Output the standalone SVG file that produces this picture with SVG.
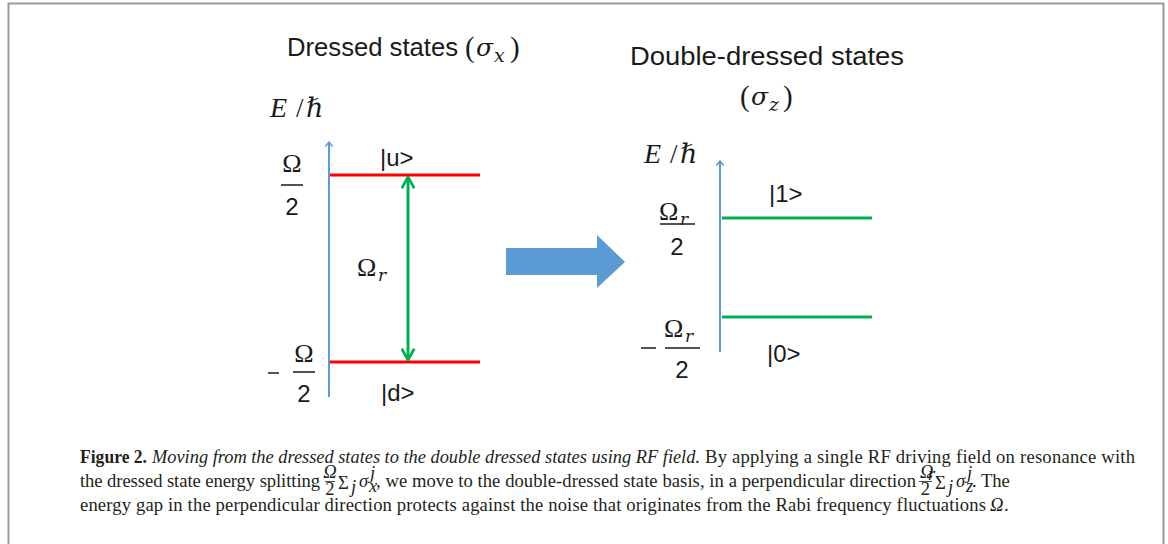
<svg xmlns="http://www.w3.org/2000/svg" width="1168" height="544" viewBox="0 0 1168 544">
<style>
.sans{font-family:"Liberation Sans","Open Sans",sans-serif;fill:#1a1a1a}
.math{font-family:"Liberation Serif","DejaVu Serif",serif;fill:#1a1a1a}
.gk{font-family:"DejaVu Serif","Liberation Serif",serif;font-style:italic;fill:#1a1a1a}
.it{font-style:italic}
.cap{font-family:"Liberation Serif","DejaVu Serif",serif;fill:#231f20;font-size:18.6px}
.axis{stroke:#5b9bd5;stroke-width:2;fill:none}
.red{stroke:#ff0000;stroke-width:3}
.grn{stroke:#00b050;stroke-width:3}
.bar{stroke:#1a1a1a;stroke-width:1.5}
.cbar{stroke:#231f20;stroke-width:0.8}
</style>
<defs>
<marker id="ax" viewBox="0 0 10 10" refX="9" refY="5" markerWidth="9" markerHeight="9" markerUnits="userSpaceOnUse" orient="auto">
<path d="M4,1 L9,5 L4,9" fill="none" stroke="#5b9bd5" stroke-width="1.6"/>
</marker>
<marker id="ga" viewBox="0 0 12 12" refX="11" refY="6" markerWidth="15" markerHeight="15" markerUnits="userSpaceOnUse" orient="auto-start-reverse">
<path d="M2,1 L11,6 L2,11" fill="none" stroke="#00b050" stroke-width="2.2"/>
</marker>
</defs>
<rect width="1168" height="544" fill="#fff"/>
<path d="M8.5,545 V3.5 H1163.5 V545" fill="none" stroke="#9a9a9a" stroke-width="2"/>

<g id="left-title">
<text class="sans" x="287" y="56" font-size="26" textLength="171" lengthAdjust="spacingAndGlyphs">Dressed states</text>
<text class="math" x="465" y="57" font-size="29">(</text>
<text class="gk" x="476" y="56" font-size="25">σ</text>
<text class="gk" x="494" y="62" font-size="19">x</text>
<text class="math" x="510" y="57" font-size="29">)</text>
</g>

<g id="left-axis-label">
<text class="math it" x="270" y="117" font-size="28">E</text>
<text class="math" x="296" y="117" font-size="27">/</text>
<text class="math it" x="306" y="117" font-size="27">ℏ</text>
</g>

<g id="left-upper-level">
<text class="math" x="292" y="172" font-size="26" text-anchor="middle">Ω</text>
<line class="bar" x1="281" y1="185" x2="303" y2="185"/>
<text class="sans" x="292" y="215" font-size="24" text-anchor="middle">2</text>
<text class="sans" x="380" y="166" font-size="24">|u&gt;</text>
</g>

<g id="left-lower-level">
<line class="bar" x1="268" y1="373" x2="279" y2="373"/>
<text class="math" x="304" y="362" font-size="26" text-anchor="middle">Ω</text>
<line class="bar" x1="293" y1="372" x2="315" y2="372"/>
<text class="sans" x="304" y="402" font-size="24" text-anchor="middle">2</text>
<text class="sans" x="381" y="401" font-size="24">|d&gt;</text>
</g>

<g id="left-gap-label">
<text class="math" x="357" y="276" font-size="26">Ω</text>
<text class="gk" x="378" y="281" font-size="17">r</text>
</g>

<g id="transition-arrow">
<polygon points="506,248 597,248 597,235 625,262 597,288 597,275 506,275" fill="#5b9bd5"/>
</g>

<g id="right-title">
<text class="sans" x="630" y="65" font-size="26" textLength="274" lengthAdjust="spacingAndGlyphs">Double-dressed states</text>
<text class="math" x="740" y="106" font-size="29">(</text>
<text class="gk" x="751" y="105" font-size="25">σ</text>
<text class="gk" x="769" y="111" font-size="19">z</text>
<text class="math" x="783" y="106" font-size="29">)</text>
</g>

<g id="right-axis-label">
<text class="math it" x="644" y="163" font-size="28">E</text>
<text class="math" x="670" y="163" font-size="27">/</text>
<text class="math it" x="680" y="163" font-size="27">ℏ</text>
</g>

<g id="right-upper-level">
<text class="math" x="659" y="220" font-size="26">Ω</text>
<text class="gk" x="680" y="225" font-size="17">r</text>
<line class="bar" x1="660" y1="224" x2="695" y2="224"/>
<text class="sans" x="677" y="255" font-size="24" text-anchor="middle">2</text>
<text class="sans" x="769" y="202" font-size="24">|1&gt;</text>
</g>

<g id="right-lower-level">
<line class="bar" x1="641" y1="348" x2="656" y2="348"/>
<text class="math" x="664" y="337" font-size="26">Ω</text>
<text class="gk" x="685" y="342" font-size="17">r</text>
<line class="bar" x1="665" y1="348" x2="700" y2="348"/>
<text class="sans" x="682" y="378" font-size="24" text-anchor="middle">2</text>
<text class="sans" x="767" y="362" font-size="24">|0&gt;</text>
</g>

<g id="connectors">
<line class="axis" x1="329" y1="397" x2="329" y2="142" marker-end="url(#ax)"/>
<line class="red" x1="330" y1="175" x2="480" y2="175"/>
<line class="red" x1="330" y1="362" x2="480" y2="362"/>
<line class="grn" x1="408" y1="177" x2="408" y2="360" marker-start="url(#ga)" marker-end="url(#ga)"/>
<line class="axis" x1="720" y1="352" x2="720" y2="161" marker-end="url(#ax)"/>
<line class="grn" x1="722" y1="218" x2="872" y2="218"/>
<line class="grn" x1="722" y1="317" x2="872" y2="317"/>
</g>

<g id="caption">
<text class="cap" x="80" y="463" font-weight="bold" textLength="67" lengthAdjust="spacingAndGlyphs">Figure 2.</text>
<text class="cap" x="152" y="463" font-style="italic" textLength="548" lengthAdjust="spacingAndGlyphs">Moving from the dressed states to the double dressed states using RF field.</text>
<text class="cap" x="705" y="463" textLength="430" lengthAdjust="spacing">By applying a single RF driving field on resonance with</text>

<text class="cap" x="80" y="487" textLength="240" lengthAdjust="spacing">the dressed state energy splitting</text>
<text class="cap it" x="330" y="478" font-size="10" text-anchor="middle">Ω</text>
<line class="cbar" x1="325" y1="481.5" x2="335" y2="481.5"/>
<text class="cap" x="330" y="495" font-size="10" text-anchor="middle">2</text>
<text class="cap" x="338" y="489" font-size="20">Σ</text>
<text class="cap it" x="351" y="493" font-size="11">j</text>
<text class="cap it" x="359" y="487">σ</text>
<text class="cap it" x="370" y="479" font-size="10">j</text>
<text class="cap it" x="369" y="492" font-size="10">x</text>
<text class="cap" x="376" y="487" textLength="540" lengthAdjust="spacing">, we move to the double-dressed state basis, in a perpendicular direction</text>
<text class="cap it" x="920" y="478" font-size="10">Ω</text>
<text class="cap it" x="928" y="480" font-size="7">r</text>
<line class="cbar" x1="919" y1="481.5" x2="932" y2="481.5"/>
<text class="cap" x="925.5" y="495" font-size="10" text-anchor="middle">2</text>
<text class="cap" x="935" y="489" font-size="20">Σ</text>
<text class="cap it" x="948" y="493" font-size="11">j</text>
<text class="cap it" x="956" y="487">σ</text>
<text class="cap it" x="967" y="479" font-size="10">j</text>
<text class="cap it" x="966" y="492" font-size="10">z</text>
<text class="cap" x="972" y="487">. The</text>

<text class="cap" x="80" y="511" textLength="906" lengthAdjust="spacing">energy gap in the perpendicular direction protects against the noise that originates from the Rabi frequency fluctuations</text>
<text class="cap it" x="990" y="511">Ω</text>
<text class="cap" x="1004" y="511">.</text>
</g>
</svg>
